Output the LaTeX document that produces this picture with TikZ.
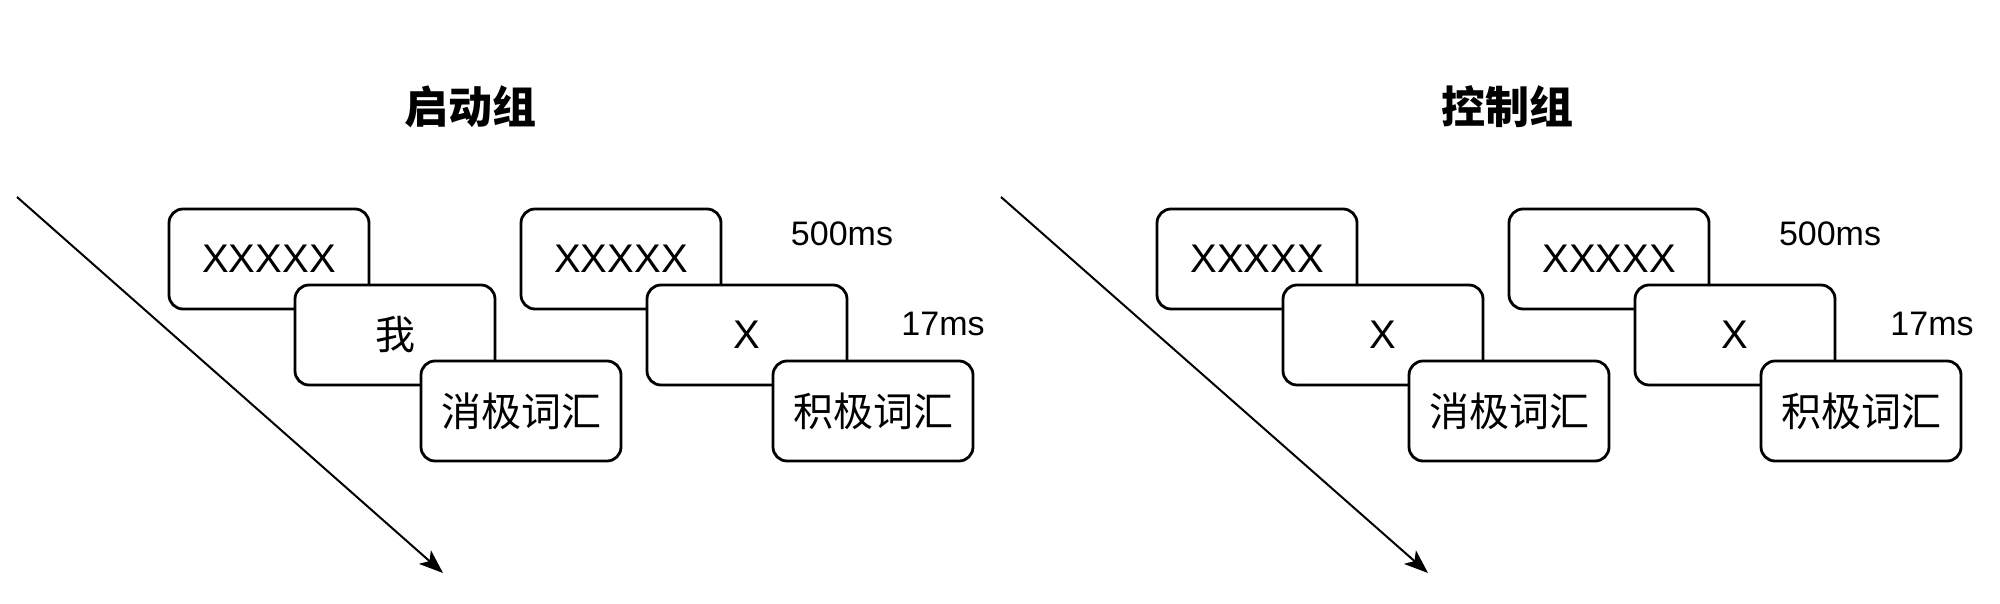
\documentclass[tikz,border=0pt]{standalone}
\usepackage{fontspec}
\setmainfont{Liberation Sans}
\newfontfamily\cjk{Noto Sans CJK SC}
\usetikzlibrary{arrows.meta}

\begin{document}
\begin{tikzpicture}[x=1pt, y=-1pt,
    card/.style={draw, line width=1.4pt, rounded corners=7pt, fill=white,
      minimum width=100pt, minimum height=50pt, inner sep=0pt,
      font=\fontsize{20}{24}\selectfont},
    cjkcard/.style={card, font=\cjk\fontsize{20}{24}\selectfont},
    dur/.style={font=\fontsize{17}{20}\selectfont, inner sep=0pt},
    grouptitle/.style={font=\cjk\bfseries\fontsize{22}{26}\selectfont, inner sep=0pt},
    timeline/.style={line width=1pt, -{Stealth[length=12pt, width=9pt, inset=3pt]}}]
  \useasboundingbox (0,0) rectangle (1000,302);

  % priming group
  \node[grouptitle] (T1) at (235,53.5) {启动组};
  \coordinate (S1) at (8.5,98.5);
  \coordinate (E1) at (221.5,286.5);
  \draw[timeline] (S1) -- (E1);
  \node[card] (A1) at (134.5,129.5) {XXXXX};
  \node[cjkcard] (A2) at (197.5,167.5) {我};
  \node[cjkcard] (A3) at (260.5,205.5) {消极词汇};
  \node[card] (B1) at (310.5,129.5) {XXXXX};
  \node[card] (B2) at (373.5,167.5) {X};
  \node[cjkcard] (B3) at (436.5,205.5) {积极词汇};
  \node[dur] (M1) at (421,117) {500ms};
  \node[dur] (N1) at (471.5,162) {17ms};

  % control group
  \node[grouptitle] (T2) at (753.5,53.5) {控制组};
  \coordinate (S2) at (500.5,98.5);
  \coordinate (E2) at (714,286.5);
  \draw[timeline] (S2) -- (E2);
  \node[card] (C1) at (628.5,129.5) {XXXXX};
  \node[card] (C2) at (691.5,167.5) {X};
  \node[cjkcard] (C3) at (754.5,205.5) {消极词汇};
  \node[card] (D1) at (804.5,129.5) {XXXXX};
  \node[card] (D2) at (867.5,167.5) {X};
  \node[cjkcard] (D3) at (930.5,205.5) {积极词汇};
  \node[dur] (M2) at (915,117) {500ms};
  \node[dur] (N2) at (966,162) {17ms};
\end{tikzpicture}
\end{document}
